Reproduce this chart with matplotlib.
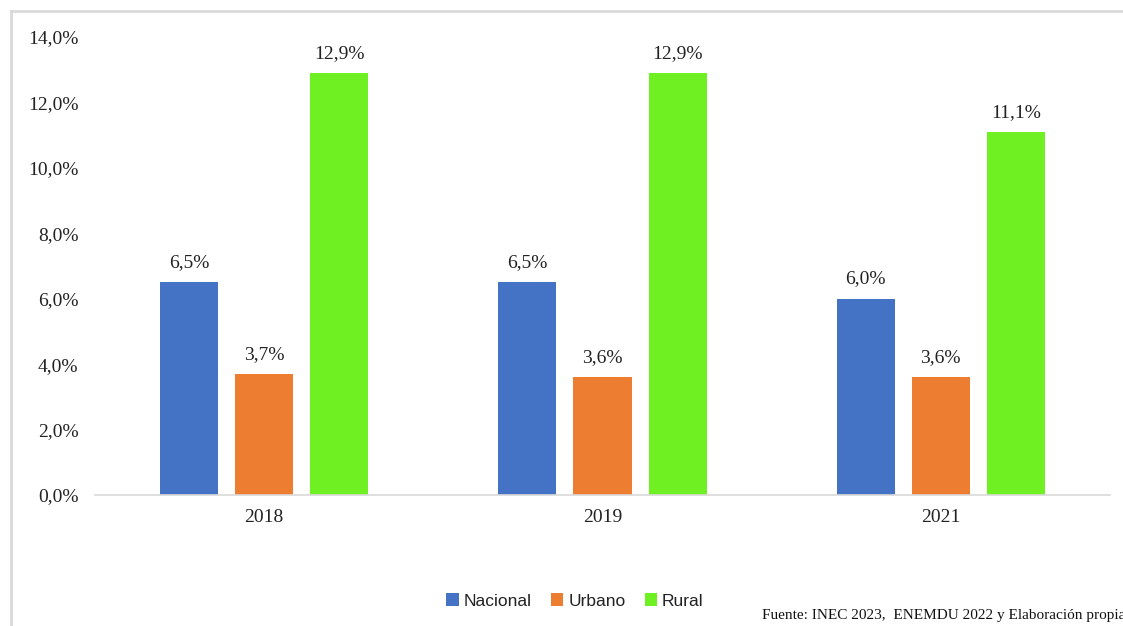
import numpy as np
import matplotlib.pyplot as plt
from matplotlib.lines import Line2D

years = ['2018', '2019', '2021']
series = ['Nacional', 'Urbano', 'Rural']
nacional = [6.5, 6.5, 6.0]
urbano = [3.7, 3.6, 3.6]
rural = [12.9, 12.9, 11.1]
colors = ['#4472C4', '#ED7D31', '#6EF022']
source = 'Fuente: INEC 2023,  ENEMDU 2022 y Elaboración propia'

serif = ['Liberation Serif', 'DejaVu Serif']
narrow = ['Liberation Sans Narrow', 'Liberation Sans', 'DejaVu Sans']

fig = plt.figure(figsize=(11.23, 6.26), dpi=100)
ax = fig.add_axes([0.0846, 0.2093, 0.9038, 0.7316])

x = np.arange(len(years))
w = 0.172
step = 0.222
for i, (vals, name, c) in enumerate(zip([nacional, urbano, rural], series, colors)):
    bars = ax.bar(x + (i - 1) * step, vals, width=w, color=c, label=name)
    for b, v in zip(bars, vals):
        ax.annotate(f'{v:.1f}%'.replace('.', ','), (b.get_x() + b.get_width() / 2, v),
                    xytext=(0, 8), textcoords='offset points', ha='center', va='bottom',
                    fontsize=14, family=serif, color='#222222')

ax.set_xlim(-0.5, 2.5)
ax.set_ylim(0, 14)
ax.set_yticks(np.arange(0, 15, 2))
ax.set_yticklabels([f'{t:.1f}%'.replace('.', ',') for t in np.arange(0, 15, 2)],
                   fontsize=14, family=serif, color='#222222')
ax.set_xticks(x)
ax.set_xticklabels(years, fontsize=14, family=serif, color='#222222')
ax.tick_params(length=0)
ax.tick_params(axis='y', pad=12)
ax.tick_params(axis='x', pad=10)
for s in ['top', 'right', 'left']:
    ax.spines[s].set_visible(False)
ax.spines['bottom'].set_color('#D9D9D9')
ax.spines['bottom'].set_linewidth(1.2)

# chart border (top and left edges visible)
fig.add_artist(Line2D([11 / 1123, 1], [1 - 11 / 626] * 2, color='#D9D9D9', lw=2))
fig.add_artist(Line2D([11 / 1123] * 2, [0, 1 - 11 / 626], color='#D9D9D9', lw=2))

leg = fig.legend(loc='center', bbox_to_anchor=(575 / 1123, 1 - 601 / 626), ncol=3,
                 frameon=False, handlelength=0.7, handleheight=0.7, handletextpad=0.3,
                 columnspacing=1.1, prop={'family': narrow, 'size': 12.5})
for t in leg.get_texts():
    t.set_color('#222222')

fig.text(762 / 1123, 1 - 616 / 626, source, fontsize=11, family=serif,
         va='center', ha='left', color='#111111')

fig.savefig('out.png', dpi=100)
